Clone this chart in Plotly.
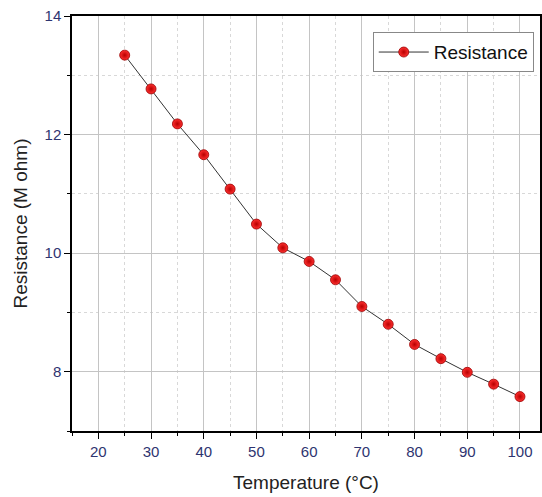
import plotly.graph_objects as go

temperature = [25, 30, 35, 40, 45, 50, 55, 60, 65, 70, 75, 80, 85, 90, 95, 100]
resistance = [13.34, 12.77, 12.18, 11.66, 11.08, 10.49, 10.09, 9.86, 9.55, 9.10,
              8.80, 8.46, 8.22, 7.99, 7.79, 7.58]
x_ticks = [20, 30, 40, 50, 60, 70, 80, 90, 100]
y_ticks = [8, 10, 12, 14]

FONT = "Liberation Sans, Arial, sans-serif"
TICK_COLOR = "#2e3470"

fig = go.Figure()
fig.add_trace(go.Scatter(
    x=temperature, y=resistance, mode="lines+markers", name="Resistance",
    line=dict(color="#333333", width=1),
    marker=dict(size=10, color="#ff3030", line=dict(color="#990000", width=0.8),
                gradient=dict(type="radial", color="#b80000")),
))

axis_common = dict(
    showline=True, linecolor="black", linewidth=1.5, mirror=True,
    ticks="outside", ticklen=6, tickwidth=1.2, tickcolor="black",
    showgrid=True, gridcolor="#c4c4c4", gridwidth=1.2,
    zeroline=False,
    tickfont=dict(family=FONT, size=15, color=TICK_COLOR),
)

fig.update_xaxes(
    range=[15, 103.8], tickvals=x_ticks,
    title=dict(text="Temperature (°C)", font=dict(family=FONT, size=19, color="#222222"), standoff=17),
    minor=dict(dtick=5, tick0=0, ticks="outside", ticklen=3, tickcolor="black",
               showgrid=True, gridcolor="#d8d8d8", griddash="dot", gridwidth=1),
    **axis_common,
)
fig.update_yaxes(
    range=[7, 14], tickvals=y_ticks,
    title=dict(text="Resistance (M ohm)", font=dict(family=FONT, size=19, color="#222222"), standoff=12),
    minor=dict(dtick=1, tick0=0, ticks="outside", ticklen=3, tickcolor="black",
               showgrid=True, gridcolor="#d8d8d8", griddash="dot", gridwidth=1),
    **axis_common,
)

fig.update_layout(
    width=542, height=497,
    margin=dict(l=72, r=0, t=16, b=66),
    plot_bgcolor="white", paper_bgcolor="white",
    showlegend=True,
    legend=dict(x=0.6426, y=0.961, xanchor="left", yanchor="top",
                bordercolor="#888888", borderwidth=1, bgcolor="white",
                font=dict(family=FONT, size=19, color="#111111"),
                tracegroupgap=0, itemwidth=50),
    font=dict(family=FONT),
)

fig.write_html("out.html")
